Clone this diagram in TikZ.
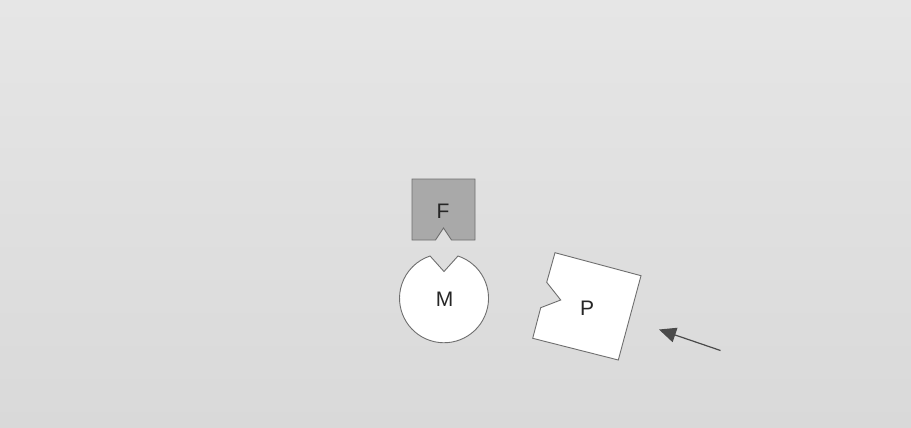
\documentclass[tikz,border=0pt]{standalone}
\usepackage{fontspec}
\setmainfont{Liberation Sans}
\usetikzlibrary{arrows.meta}
\definecolor{bgtop}{HTML}{E6E6E6}
\definecolor{bgbot}{HTML}{D9D9D9}
\definecolor{ffill}{HTML}{A9A9A9}
\definecolor{edge}{HTML}{6E6E6E}
\definecolor{arrowc}{HTML}{4A4A4A}
\tikzset{
  piece/.style={draw=edge, line width=0.9pt, line join=miter},
  lbl/.style={font=\fontsize{21}{21}\selectfont, text=black!85, inner sep=0pt},
  pointer/.style={draw=arrowc, line width=1.2pt, -{Triangle[length=17pt,width=15pt]}}
}
\begin{document}
\begin{tikzpicture}[x=1pt,y=-1pt]
  \useasboundingbox (0,0) rectangle (911,428);
  \shade[top color=bgtop, bottom color=bgbot] (0,0) rectangle (911,428);
  % F piece
  \draw[piece, fill=ffill] (412,179) -- (475,179) -- (475,240) -- (451.5,240) -- (443.5,228) -- (435.5,240) -- (412,240) -- cycle;
  \node[lbl] (F) at (443,211) {F};
  % M piece (circle with notch)
  \draw[piece, fill=white] (458,256) arc[start angle=-71.7, end angle=251.7, radius=44.5] -- (444,271.5) -- cycle;
  \node[lbl] (M) at (444.5,299.5) {M};
  % P piece
  \draw[piece, fill=white] (555,252.7) -- (641,275.7) -- (618.3,360) -- (532.7,338.3) -- (540.7,307.7) -- (560.7,300) -- (546.7,282.3) -- cycle;
  \node[lbl] (P) at (587,308) {P};
  % arrow
  \coordinate (tail) at (720.5,350.5);
  \coordinate (tip) at (659,329.5);
  \draw[pointer] (tail) -- (tip);
\end{tikzpicture}
\end{document}
